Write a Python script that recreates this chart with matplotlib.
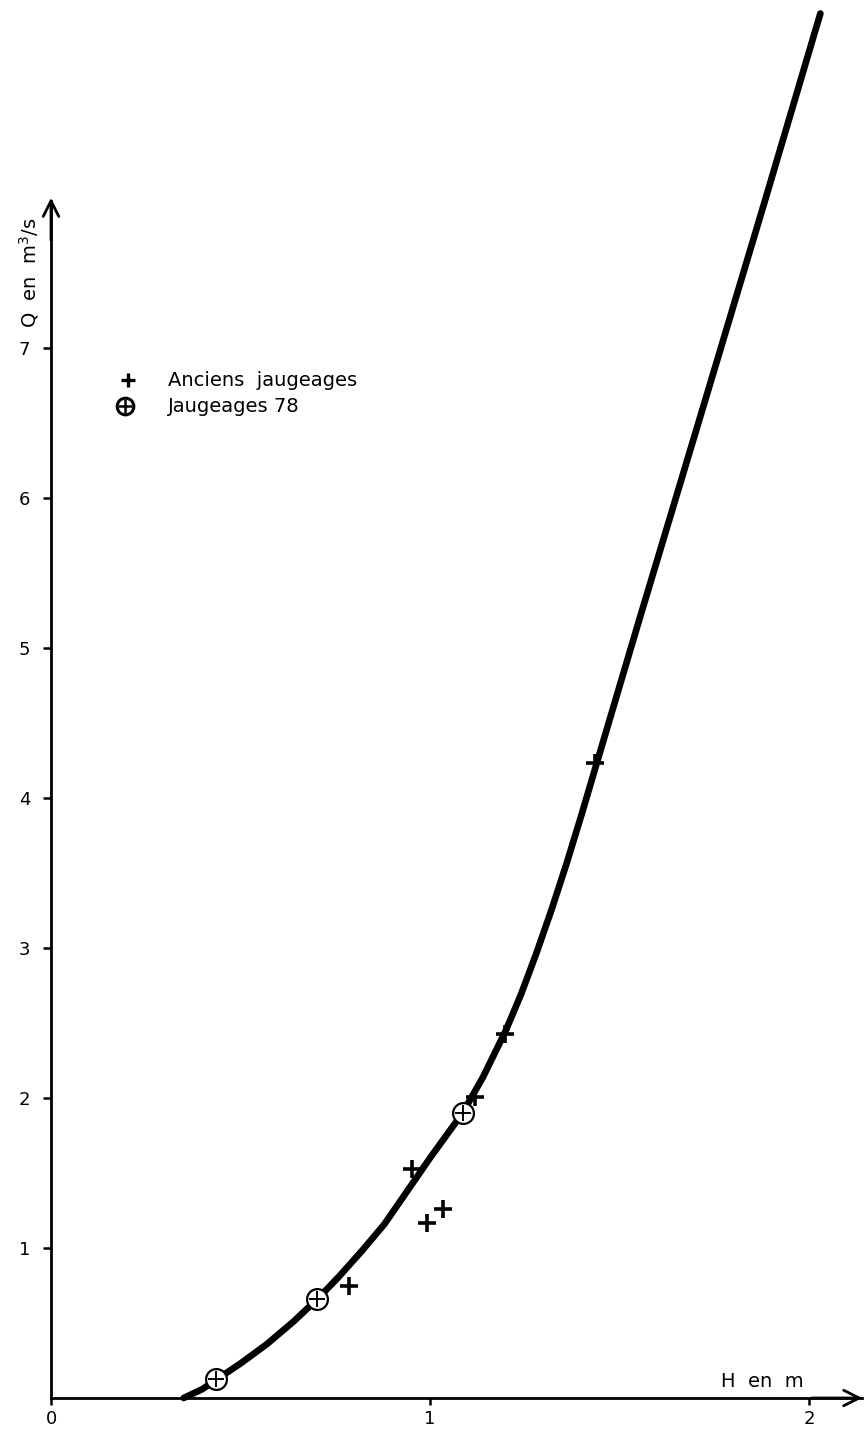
import matplotlib
matplotlib.use('Agg')
import matplotlib.pyplot as plt

# Courbe de tarage
curve_h = [0.35, 0.40, 0.435, 0.50, 0.57, 0.64, 0.703, 0.76, 0.82, 0.88, 0.94, 1.00,
           1.043, 1.086, 1.14, 1.20, 1.24, 1.28, 1.32, 1.36, 1.40, 1.435, 1.55, 1.72,
           1.88, 2.03]
curve_q = [0.00, 0.06, 0.12, 0.23, 0.36, 0.51, 0.66, 0.81, 0.98, 1.16, 1.38, 1.60,
           1.75, 1.90, 2.14, 2.45, 2.69, 2.96, 3.25, 3.56, 3.89, 4.19, 5.17, 6.60,
           7.95, 9.23]

# Anciens jaugeages
old_h = [0.787, 0.952, 0.991, 1.033, 1.119, 1.198, 1.435]
old_q = [0.75, 1.53, 1.17, 1.26, 2.01, 2.43, 4.23]

# Jaugeages 78
new_h = [0.435, 0.703, 1.086]
new_q = [0.13, 0.66, 1.90]

x_ticks = [0, 1, 2]
y_ticks = [1, 2, 3, 4, 5, 6, 7]

fig = plt.figure(figsize=(8.68, 14.34), dpi=100)
ax = fig.add_axes([0, 0, 1, 1])
ax.set_xlim(-51 / 379, (868 - 51) / 379)
ax.set_ylim(-36 / 150, 1398 / 150)

# axes en croix
for side in ['top', 'right']:
    ax.spines[side].set_visible(False)
ax.spines['left'].set_position(('data', 0))
ax.spines['bottom'].set_position(('data', 0))
ax.spines['left'].set_bounds(0, 7.98)
ax.spines['bottom'].set_bounds(0, 2.14)
ax.spines['left'].set_linewidth(2.0)
ax.spines['bottom'].set_linewidth(2.0)

ax.set_xticks(x_ticks)
ax.set_yticks(y_ticks)
ax.tick_params(axis='y', direction='out', length=6, width=1.8, pad=9, labelsize=13)
ax.tick_params(axis='x', direction='out', length=5, width=1.8, pad=4, labelsize=13)

# fleches
ax.annotate('', xy=(0, 8.02), xytext=(0, 7.7),
            arrowprops=dict(arrowstyle='->', lw=2.0, mutation_scale=28, color='black'))
ax.annotate('', xy=(2.148, 0), xytext=(2.0, 0),
            arrowprops=dict(arrowstyle='->', lw=2.0, mutation_scale=28, color='black'))

ax.text(-0.057, 7.5, 'Q  en  m$^3$/s', rotation=90, ha='center', va='center', fontsize=14)
ax.text(1.876, 0.11, 'H  en  m', ha='center', va='center', fontsize=14)

# courbe
ax.plot(curve_h, curve_q, '-', color='black', linewidth=4.8, solid_capstyle='round',
        solid_joinstyle='round', zorder=2)

# points
ax.plot(old_h, old_q, '+', color='black', markersize=13, markeredgewidth=2.6, zorder=3)
ax.plot(new_h, new_q, 'o', color='black', markerfacecolor='white', markersize=15,
        markeredgewidth=1.6, zorder=3)
ax.plot(new_h, new_q, '+', color='black', markersize=12, markeredgewidth=1.4, zorder=4)

# legende
ax.plot([(128 - 51) / 379], [(1398 - 380) / 150], '+', color='black', markersize=10,
        markeredgewidth=2.4)
ax.plot([(125 - 51) / 379], [(1398 - 406) / 150], 'o', color='black', markerfacecolor='white',
        markersize=12, markeredgewidth=2.2)
ax.plot([(125 - 51) / 379], [(1398 - 406) / 150], '+', color='black', markersize=10,
        markeredgewidth=1.8)
ax.text((168 - 51) / 379, (1398 - 380) / 150, 'Anciens  jaugeages', va='center', fontsize=14)
ax.text((168 - 51) / 379, (1398 - 407) / 150, 'Jaugeages 78', va='center', fontsize=14)

fig.savefig('out.png', dpi=100)
